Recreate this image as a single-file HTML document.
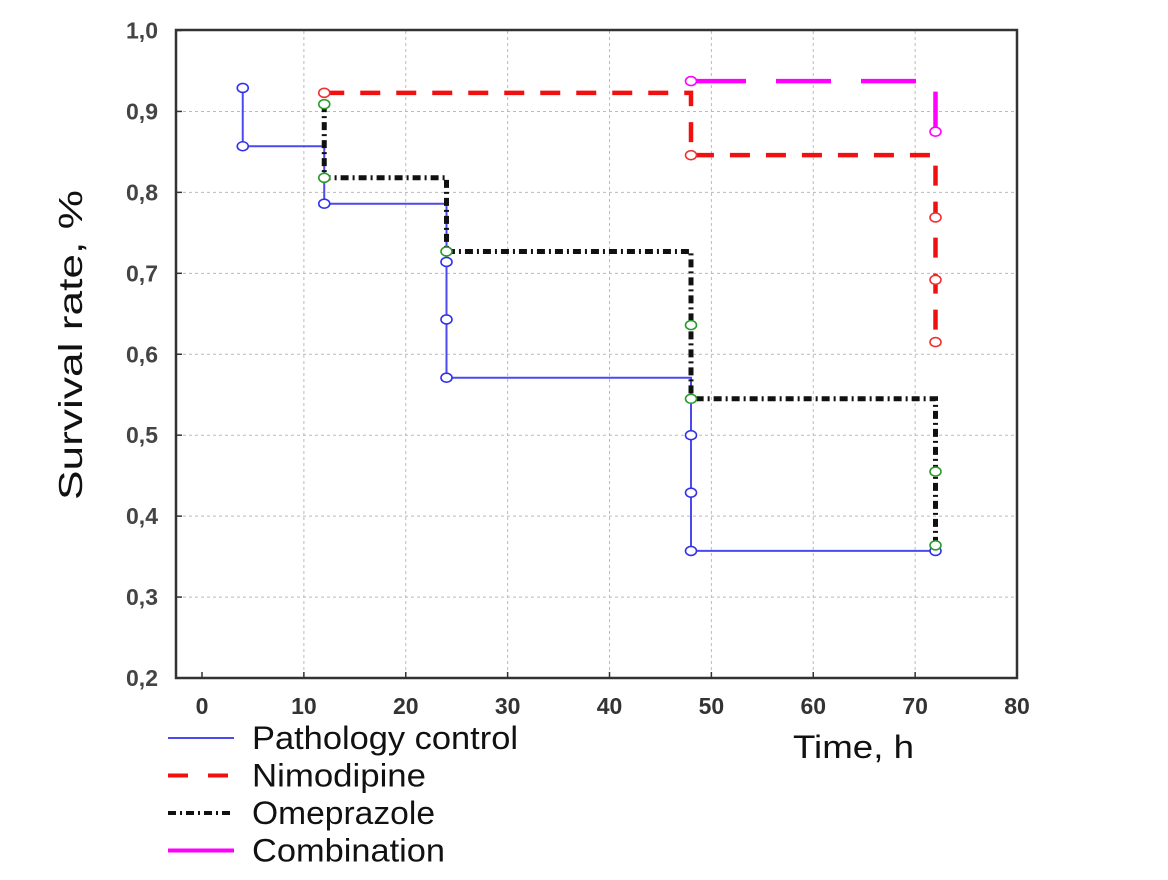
<!DOCTYPE html>
<html><head><meta charset="utf-8"><style>
html,body{margin:0;padding:0;background:#fff;}
svg{display:block;font-family:"Liberation Sans",sans-serif;}
</style></head><body>
<svg id="chart" width="1168" height="880" viewBox="0 0 1168 880">
<g id="grid"></g>
<rect x="176" y="30" width="841" height="648" fill="none" stroke="#333" stroke-width="2.5"/>
<g id="ticks"></g>
<g id="series"></g>
<text x="0" y="0" transform="translate(82,345) rotate(-90)" text-anchor="middle" font-size="33" textLength="310" lengthAdjust="spacingAndGlyphs" fill="#111">Survival rate, %</text>
<text x="793" y="758" font-size="32" textLength="121" lengthAdjust="spacingAndGlyphs" fill="#111">Time, h</text>
<g id="legend"></g>
</svg>
<script>
const xTicks=[0,10,20,30,40,50,60,70,80];
const yTicks=[0.2,0.3,0.4,0.5,0.6,0.7,0.8,0.9,1.0];
const seriesNames=["Pathology control","Nimodipine","Omeprazole","Combination"];
const pathologyT=[4,4,12,24,24,24,48,48,48,72];
const pathologyS=[0.929,0.857,0.786,0.714,0.643,0.571,0.5,0.429,0.357,0.357];
const nimodipineT=[12,48,72,72,72];
const nimodipineS=[0.923,0.846,0.769,0.692,0.615];
const omeprazoleT=[12,12,24,48,48,72,72];
const omeprazoleS=[0.909,0.818,0.727,0.636,0.545,0.455,0.364];
const combinationT=[48,72];
const combinationS=[0.9375,0.875];

const NS="http://www.w3.org/2000/svg";
const X0=202,X1=1017,Y0=678,Y1=30.5;
const xs=v=>X0+(v/80)*(X1-X0);
const ys=v=>Y0-((v-0.2)/0.8)*(Y0-Y1);
function mk(tag,attrs,parent){const e=document.createElementNS(NS,tag);for(const k in attrs)e.setAttribute(k,attrs[k]);parent.appendChild(e);return e;}
const grid=document.getElementById('grid'),ticks=document.getElementById('ticks');
xTicks.forEach(t=>{
  const x=xs(t);
  if(t>0&&t<80){const l=mk('line',{x1:x,x2:x,y1:31,y2:677,stroke:'#bbb','stroke-width':1,'stroke-dasharray':'3 3'},grid);
  
  }
  const tk=mk('line',{x1:x,x2:x,y1:672,y2:678,stroke:'#333','stroke-width':1.5},ticks);
  
  
  const tx=mk('text',{x:x,y:714,'text-anchor':'middle','font-size':23,fill:'#333','font-weight':'bold'},ticks);
  tx.textContent=String(t);
  
  
});
yTicks.forEach(t=>{
  const y=ys(t);
  if(t>0.25&&t<0.95){const l=mk('line',{x1:177,x2:1016,y1:y,y2:y,stroke:'#bbb','stroke-width':1,'stroke-dasharray':'3 3'},grid);
  
  }
  const tk=mk('line',{x1:176,x2:182,y1:y,y2:y,stroke:'#333','stroke-width':1.5},ticks);
  
  
  const tx=mk('text',{x:158,y:y+8,'text-anchor':'end','font-size':23,fill:'#444','font-weight':'bold'},ticks);
  tx.textContent=t.toFixed(1).replace('.',',');
  
  
});
const styles=[
 {c:'#4a4af0',w:2,d:'',mc:'#3030ee'},
 {c:'#f01010',w:4.5,d:'20 16',mc:'#f03030'},
 {c:'#111',w:5,d:'8 4 2 4',mc:'#2a9a2a'},
 {c:'#ff00ff',w:4.5,d:'55 30',mc:'#ff00ff'}];
const data=[[pathologyT,pathologyS],[nimodipineT,nimodipineS],[omeprazoleT,omeprazoleS],[combinationT,combinationS]];
const sg=document.getElementById('series');
data.forEach((ds,i)=>{
  const T=ds[0],S=ds[1],st=styles[i];
  let d='M'+xs(T[0])+','+ys(S[0]);
  for(let k=1;k<T.length;k++){d+=' H'+xs(T[k])+' V'+ys(S[k]);}
  const p=mk('path',{d:d,fill:'none',stroke:st.c,'stroke-width':st.w,'stroke-dasharray':st.d},sg);
  
  
  for(let k=0;k<T.length;k++){
    const m=mk('ellipse',{cx:xs(T[k]),cy:ys(S[k]),rx:5.5,ry:4.5,fill:'#fff',stroke:st.mc,'stroke-width':1.6},sg);
    
    
  }
});
const legendWidths=[266,174,183,193];
const lg=document.getElementById('legend');
seriesNames.forEach((n,i)=>{
  const y=738+i*37.5,st=styles[i];
  const dash=i===1?'20 20':(i===2?'8 4 2 4':'');
  const l=mk('line',{x1:168,x2:234,y1:y,y2:y,stroke:st.c,'stroke-width':i===0?2:4,'stroke-dasharray':dash},lg);
  
  
  const t=mk('text',{x:252,y:y+11,'font-size':32,fill:'#111',textLength:legendWidths[i],lengthAdjust:'spacingAndGlyphs'},lg);
  t.textContent=n;
  
  
});
</script>
</body></html>
